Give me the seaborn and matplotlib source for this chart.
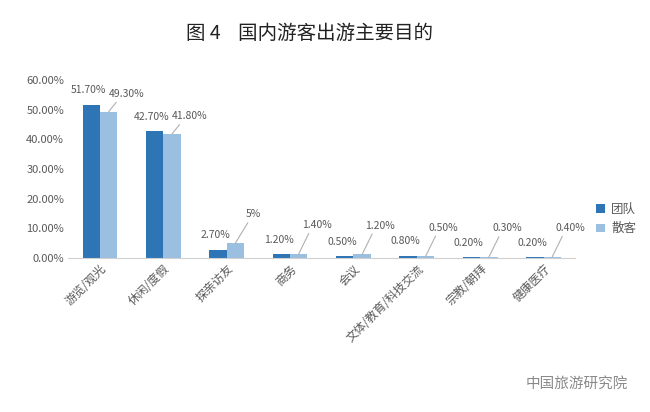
import pandas as pd
import matplotlib
matplotlib.use('Agg')
import matplotlib.pyplot as plt
import seaborn as sb

# data
purposes = ['游览/观光', '休闲/度假', '探亲访友', '商务', '会议',
            '文体/教育/科技交流', '宗教/朝拜', '健康医疗']
group_tour = [51.7, 42.7, 2.7, 1.2, 0.5, 0.8, 0.2, 0.2]
independent = [49.3, 41.8, 5.0, 1.4, 1.2, 0.5, 0.3, 0.4]
group_labels = ['51.70%', '42.70%', '2.70%', '1.20%', '0.50%', '0.80%', '0.20%', '0.20%']
indep_labels = ['49.30%', '41.80%', '5%', '1.40%', '1.20%', '0.50%', '0.30%', '0.40%']
series = ['团队', '散客']
yticks = [0, 10, 20, 30, 40, 50, 60]

df = pd.DataFrame({
    'purpose': purposes * 2,
    'share': group_tour + independent,
    'type': [series[0]] * len(purposes) + [series[1]] * len(purposes),
})

sb.set_style('white')
plt.rcParams['font.family'] = ['Noto Sans CJK SC', 'DejaVu Sans']

grey = '#595959'
fig = plt.figure(figsize=(6.5, 4.12), dpi=100)
ax = fig.add_axes([0.105, 0.374, 0.78, 0.432])

sb.barplot(data=df, x='purpose', y='share', hue='type', order=purposes,
           hue_order=series, palette=['#2E75B6', '#9BBFE0'], width=0.55,
           saturation=1, linewidth=0, legend=True, ax=ax)

ax.set_ylim(0, 60)
ax.set_yticks(yticks)
ax.set_yticklabels([f'{v:.2f}%' for v in yticks], fontsize=8, color=grey)
ax.set_xlim(-0.5, len(purposes) - 0.5)
ax.set_xticks(range(len(purposes)))
ax.set_xticklabels(purposes, rotation=45, ha='right', rotation_mode='anchor',
                   fontsize=8.5, color=grey)
ax.tick_params(axis='both', length=0, pad=3)
ax.set_xlabel('')
ax.set_ylabel('')
for side in ['top', 'right', 'left']:
    ax.spines[side].set_visible(False)
ax.spines['bottom'].set_color('#d0d0d0')

# value labels: dark bars straight above, light bars offset with leader line
for bar, txt in zip(ax.containers[0], group_labels):
    ax.annotate(txt, (bar.get_x() + bar.get_width() / 2, bar.get_height()),
                xytext=(-2, 7), textcoords='offset points', ha='center',
                va='bottom', fontsize=7.5, color=grey)
for bar, txt in zip(ax.containers[1], indep_labels):
    # short bars: lift the label clear of the neighbouring group's label
    dy = 9 if bar.get_height() > 10 else 17
    ax.annotate(txt, (bar.get_x() + bar.get_width() / 2, bar.get_height()),
                xytext=(13, dy), textcoords='offset points', ha='center',
                va='bottom', fontsize=7.5, color=grey,
                arrowprops=dict(arrowstyle='-', color='#b0b0b0', lw=0.8,
                                shrinkA=0, shrinkB=0,
                                relpos=(0.3, 0.1)))

handles, labels = ax.get_legend_handles_labels()
ax.legend(handles, labels, loc='center left', bbox_to_anchor=(0.9, 0.468),
          bbox_transform=fig.transFigure, frameon=False, fontsize=9,
          handlelength=0.7, handleheight=0.7, handletextpad=0.5,
          labelspacing=0.5, labelcolor=grey)

fig.text(0.477, 0.918, '图 4    国内游客出游主要目的', ha='center', va='center',
         fontsize=14, color='#222222')
fig.text(0.888, 0.068, '中国旅游研究院', ha='center', va='center',
         fontsize=10.5, color='#8a8a8a')

fig.savefig('out.png', dpi=100)
